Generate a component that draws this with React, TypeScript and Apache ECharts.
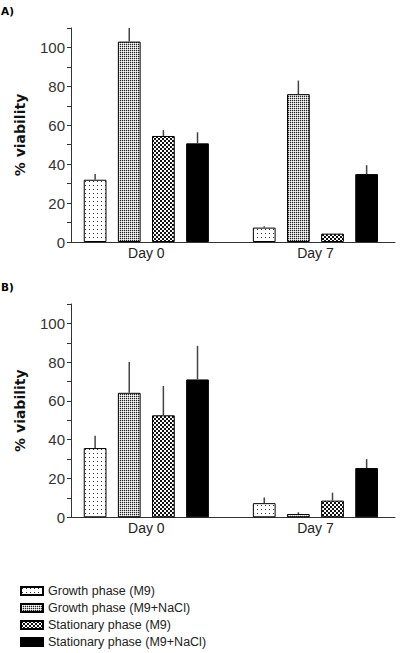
import React, { useEffect, useRef } from 'react';
import * as echarts from 'echarts';

const days = ['Day 0', 'Day 7'];
const seriesNames = [
  'Growth phase (M9)',
  'Growth phase (M9+NaCl)',
  'Stationary phase (M9)',
  'Stationary phase (M9+NaCl)',
];
const panelLabels = ['A)', 'B)'];
const yAxisTitle = '% viability';
const yTickLabels = [0, 20, 40, 60, 80, 100];

// Panel A means [Day 0, Day 7]
const aGrowthM9 = [32, 7.4];
const aGrowthNaCl = [103, 76];
const aStatM9 = [54.5, 4.3];
const aStatNaCl = [50.7, 34.9];
// Panel A error (upper SD)
const aGrowthM9Err = [3, 0.7];
const aGrowthNaClErr = [7, 7];
const aStatM9Err = [3, 0];
const aStatNaClErr = [5.7, 4.6];

// Panel B means [Day 0, Day 7]
const bGrowthM9 = [35.7, 7.3];
const bGrowthNaCl = [64.2, 1.7];
const bStatM9 = [52.6, 8.6];
const bStatNaCl = [71.1, 25.4];
// Panel B error (upper SD)
const bGrowthM9Err = [6.4, 2.9];
const bGrowthNaClErr = [15.9, 0.9];
const bStatM9Err = [15.1, 4.1];
const bStatNaClErr = [17.3, 4.6];

const CAT_GAP = 0.26;
const BAR_GAP = 0.5;

function tile(w: number, h: number, draw: (ctx: CanvasRenderingContext2D) => void) {
  const c = document.createElement('canvas');
  c.width = w;
  c.height = h;
  const ctx = c.getContext('2d')!;
  draw(ctx);
  return c;
}

function makeFills() {
  const dots = tile(4, 4, (ctx) => {
    ctx.fillStyle = '#ffffff';
    ctx.fillRect(0, 0, 4, 4);
    ctx.fillStyle = '#333333';
    ctx.fillRect(1, 1, 1, 1);
  });
  const grid = tile(2, 2, (ctx) => {
    ctx.fillStyle = '#ffffff';
    ctx.fillRect(0, 0, 2, 2);
    ctx.fillStyle = '#222222';
    ctx.fillRect(0, 0, 1, 1);
    ctx.fillStyle = '#c4c4c4';
    ctx.fillRect(1, 0, 1, 1);
    ctx.fillRect(0, 1, 1, 1);
  });
  const checker = tile(4, 4, (ctx) => {
    ctx.fillStyle = '#ffffff';
    ctx.fillRect(0, 0, 4, 4);
    ctx.fillStyle = '#111111';
    ctx.fillRect(0, 0, 2, 2);
    ctx.fillRect(2, 2, 2, 2);
  });
  return [
    { image: dots, repeat: 'repeat' },
    { image: grid, repeat: 'repeat' },
    { image: checker, repeat: 'repeat' },
    '#000000',
  ];
}

const FONT = "'Liberation Sans', Arial, sans-serif";

export default function App() {
  const ref = useRef<HTMLDivElement>(null);

  useEffect(() => {
    document.body.style.margin = '0';
    if (!ref.current) return;
    const chart = echarts.init(ref.current, undefined, { renderer: 'svg' });
    const fills = makeFills();

    const panels = [
      {
        values: [aGrowthM9, aGrowthNaCl, aStatM9, aStatNaCl],
        errs: [aGrowthM9Err, aGrowthNaClErr, aStatM9Err, aStatNaClErr],
        top: 28,
        height: 214,
      },
      {
        values: [bGrowthM9, bGrowthNaCl, bStatM9, bStatNaCl],
        errs: [bGrowthM9Err, bGrowthNaClErr, bStatM9Err, bStatNaClErr],
        top: 304,
        height: 213.3,
      },
    ];

    const grid: any[] = [];
    const xAxis: any[] = [];
    const yAxis: any[] = [];
    const series: any[] = [];

    panels.forEach((p, pi) => {
      const axGrid = pi * 2;
      const barGrid = pi * 2 + 1;
      grid.push({ left: 71, right: 5, top: p.top, height: p.height });
      grid.push({ left: 61.75, width: 343, top: p.top, height: p.height });

      xAxis.push({
        type: 'category',
        gridIndex: axGrid,
        data: days,
        axisLine: { show: true, lineStyle: { color: '#333', width: 1 } },
        axisTick: { show: false },
        axisLabel: { show: false },
      });
      xAxis.push({
        type: 'category',
        gridIndex: barGrid,
        data: days,
        axisLine: { show: false },
        axisTick: { show: false },
        axisLabel: { show: true, fontSize: 14, fontFamily: FONT, color: '#222', margin: 4 },
      });
      yAxis.push({
        type: 'value',
        gridIndex: axGrid,
        min: 0,
        max: 110,
        interval: 10,
        name: yAxisTitle,
        nameLocation: 'middle',
        nameRotate: 90,
        nameGap: 44,
        nameTextStyle: { fontSize: 14, fontWeight: 'bold', fontFamily: "'DejaVu Sans', Verdana, sans-serif", color: '#111' },
        axisLine: { show: true, lineStyle: { color: '#333', width: 1 } },
        axisTick: { show: true, inside: false, length: 4, lineStyle: { color: '#333' } },
        axisLabel: {
          fontSize: 15,
          fontFamily: FONT,
          color: '#333',
          margin: 6,
          formatter: (v: number) => (yTickLabels.indexOf(v) >= 0 ? String(v) : ''),
        },
        splitLine: { show: false },
      });
      yAxis.push({
        type: 'value',
        gridIndex: barGrid,
        min: 0,
        max: 110,
        show: false,
      });

      p.values.forEach((vals, si) => {
        series.push({
          type: 'bar',
          name: seriesNames[si],
          xAxisIndex: barGrid,
          yAxisIndex: barGrid,
          data: vals,
          barCategoryGap: CAT_GAP * 100 + '%',
          barGap: BAR_GAP * 100 + '%',
          itemStyle: { color: fills[si], borderColor: '#000', borderWidth: 1 },
          z: 2,
        });
      });

      const errData: number[][] = [];
      p.values.forEach((vals, si) => {
        vals.forEach((v, ci) => {
          errData.push([ci, si, v, v + p.errs[si][ci]]);
        });
      });
      series.push({
        type: 'custom',
        name: 'err' + pi,
        xAxisIndex: barGrid,
        yAxisIndex: barGrid,
        data: errData,
        z: 3,
        renderItem: (params: any, api: any) => {
          const ci = api.value(0);
          const si = api.value(1);
          const lo = api.value(2);
          const hi = api.value(3);
          const band = api.size([1, 0])[0];
          const n = seriesNames.length;
          const groupW = band * (1 - CAT_GAP);
          const w = groupW / (n + (n - 1) * BAR_GAP);
          const off = -groupW / 2 + w / 2 + si * w * (1 + BAR_GAP);
          const p0 = api.coord([ci, lo]);
          const p1 = api.coord([ci, hi]);
          return {
            type: 'line',
            shape: { x1: p0[0] + off, y1: p0[1], x2: p0[0] + off, y2: p1[1] },
            style: { stroke: '#444', lineWidth: 1.5 },
          };
        },
      });
    });

    chart.setOption({
      animation: false,
      backgroundColor: '#ffffff',
      title: panelLabels.map((t, i) => ({
        text: t,
        left: 1,
        top: i === 0 ? 5 : 281,
        padding: 0,
        textStyle: { fontSize: 10.5, fontWeight: 'bold', fontFamily: "'DejaVu Sans', Verdana, sans-serif", color: '#000' },
      })),
      legend: {
        data: seriesNames,
        orient: 'vertical',
        left: 20,
        top: 584,
        padding: 0,
        itemWidth: 22,
        itemHeight: 8,
        itemGap: 3,
        icon: 'rect',
        selectedMode: false,
        textStyle: { fontSize: 12.5, fontFamily: FONT, color: '#222', lineHeight: 14 },
      },
      grid,
      xAxis,
      yAxis,
      series,
    });

    return () => chart.dispose();
  }, []);

  return <div ref={ref} style={{ width: 400, height: 653 }} />;
}
